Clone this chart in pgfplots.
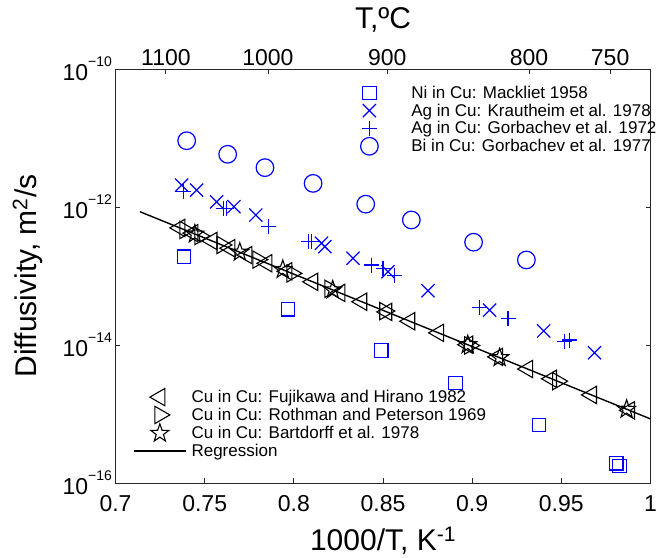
\documentclass[border=0pt]{standalone}
\usepackage{fontspec}
\setmainfont{Liberation Sans}
\usepackage{pgfplots}
\pgfplotsset{compat=1.18}
\usetikzlibrary{plotmarks}

% outlined five-pointed star (pentagram)
\pgfdeclareplotmark{ostar}{%
  \pgfpathmoveto{\pgfpointpolar{90}{\pgfplotmarksize}}%
  \pgfpathlineto{\pgfpointpolar{126}{0.40\pgfplotmarksize}}%
  \pgfpathlineto{\pgfpointpolar{162}{\pgfplotmarksize}}%
  \pgfpathlineto{\pgfpointpolar{198}{0.40\pgfplotmarksize}}%
  \pgfpathlineto{\pgfpointpolar{234}{\pgfplotmarksize}}%
  \pgfpathlineto{\pgfpointpolar{270}{0.40\pgfplotmarksize}}%
  \pgfpathlineto{\pgfpointpolar{306}{\pgfplotmarksize}}%
  \pgfpathlineto{\pgfpointpolar{342}{0.40\pgfplotmarksize}}%
  \pgfpathlineto{\pgfpointpolar{18}{\pgfplotmarksize}}%
  \pgfpathlineto{\pgfpointpolar{54}{0.40\pgfplotmarksize}}%
  \pgfpathclose\pgfusepathqstroke}

\newcommand\ticksize{\fontsize{23}{27}\selectfont}
\newcommand\labsize{\fontsize{30}{34}\selectfont}
\newcommand\legsize{\fontsize{17}{21}\selectfont}
\newcommand\expo[1]{\raisebox{0.62em}{\fontsize{14}{14}\selectfont #1}}

\pgfplotsset{
  diffaxis/.style={
    scale only axis, width=535pt, height=414pt,
    at={(0pt,0pt)}, anchor=south west,
    xmin=0.7, xmax=1.0, ymin=1e-16, ymax=1e-10,
    tick align=inside, major tick length=5pt,
    yminorticks=false, xminorticks=false,
    axis line style={black!85, line width=0.8pt},
    every tick/.style={black!85, line width=0.8pt},
    tick label style={font=\ticksize},
  },
  legimg/.style={
    legend image code/.code={\draw[mark repeat=2,mark phase=2]
      plot coordinates {(0pt,0pt)(26pt,0pt)(52pt,0pt)};},
    legend style={draw=none, fill=none, font=\legsize,
      inner sep=0pt, outer sep=0pt, row sep=0pt, column sep=3pt},
    legend cell align=left,
  },
  % legend symbol for marker-only series: one mark centred in a 52pt slot
  markleg/.style={
    legend image code/.code={%
      \path[draw=none, fill=none] (0pt,0pt) -- (52pt,0pt);
      \draw[/tikz/only marks] plot coordinates {(26pt,0pt)};},
  },
}

\begin{document}
\begin{tikzpicture}
% solute diffusion data, bottom 1000/T axis
\begin{axis}[diffaxis, legimg, ymode=log,
  xtick={0.7,0.75,0.8,0.85,0.9,0.95,1},
  xticklabels={0.7,0.75,0.8,0.85,0.9,0.95,1},
  xtick pos=left,
  every x tick label/.append style={yshift=-9pt},
  ytick={1e-16,1e-14,1e-12,1e-10},
  yticklabels={10\expo{−16},10\expo{−14},10\expo{−12},10\expo{−10}},
  xlabel={1000/T, K\textsuperscript{-1}},
  ylabel={Diffusivity, m\textsuperscript{2}/s},
  every axis y label/.style={at={(axis description cs:-0.164,0.5)}, rotate=90,
    anchor=center, font=\labsize},
  every axis x label/.style={at={(axis description cs:0.5,-0.162)}, anchor=base,
    font=\labsize},
  legend style={at={(axis description cs:0.426,0.964)}, anchor=north west,
    column sep=14pt},
]
\addplot[only marks, markleg, blue, mark=square, mark size=6.7pt, line width=1.2pt] coordinates {
  (0.7384,1.9e-13) (0.7968,3.3e-14) (0.8491,8.3e-15) (0.8906,2.8e-15)
  (0.9374,6.9e-16) (0.9808,1.93e-16) (0.9826,1.76e-16)};
\addlegendentry{Ni in Cu: Mackliet 1958}
\addplot[only marks, markleg, blue, mark=x, mark size=9.3pt, line width=1.2pt] coordinates {
  (0.7371,2.08e-12) (0.7455,1.76e-12) (0.7567,1.19e-12) (0.7664,1.01e-12)
  (0.7787,7.66e-13) (0.8155,2.98e-13) (0.8174,2.66e-13) (0.8332,1.81e-13)
  (0.8528,1.15e-13) (0.8752,6.12e-14) (0.9098,3.21e-14) (0.9401,1.60e-14)
  (0.9686,7.73e-15)};
\addlegendentry{Ag in Cu: Krautheim et al. 1978}
\addplot[only marks, markleg, blue, mark=+, mark size=7.5pt, line width=1.2pt] coordinates {
  (0.7380,1.67e-12) (0.7604,9.57e-13) (0.7623,9.57e-13) (0.7856,5.18e-13)
  (0.8080,3.14e-13) (0.8099,3.14e-13) (0.8435,1.44e-13) (0.8500,1.29e-13)
  (0.8566,1.03e-13) (0.9042,3.52e-14) (0.9201,2.44e-14) (0.9518,1.12e-14)
  (0.9546,1.18e-14)};
\addlegendentry{Ag in Cu: Gorbachev et al. 1972}
\addplot[only marks, markleg, blue, mark=o, mark size=8.8pt, line width=1.2pt] coordinates {
  (0.7399,9.14e-12) (0.7629,5.81e-12) (0.7838,3.72e-12) (0.8108,2.20e-12)
  (0.8403,1.10e-12) (0.8659,6.49e-13) (0.9008,3.09e-13) (0.9304,1.71e-13)};
\addlegendentry{Bi in Cu: Gorbachev et al. 1977}
\end{axis}

% self-diffusion data and regression
\begin{axis}[diffaxis, legimg, ymode=log, hide axis,
  legend style={at={(axis description cs:0.033,0.229)}, anchor=north west},
]
\addplot[only marks, markleg, black, mark=triangle, mark size=10pt, line width=1.1pt,
  mark options={rotate=90}] coordinates {
  (0.7361,4.98e-13) (0.7434,4.18e-13) (0.7541,3.22e-13) (0.7641,2.53e-13)
  (0.7737,2.01e-13) (0.7849,1.53e-13) (0.7961,1.17e-13) (0.8106,8.24e-14)
  (0.8258,5.70e-14) (0.8381,4.24e-14) (0.8521,3.02e-14) (0.8650,2.21e-14)
  (0.8812,1.50e-14) (0.8975,1.01e-14) (0.9143,6.73e-15) (0.9311,4.49e-15)
  (0.9445,3.24e-15) (0.9669,1.89e-15) (0.9882,1.13e-15)};
\addlegendentry{Cu in Cu: Fujikawa and Hirano 1982}
\addplot[only marks, markleg, black, mark=triangle, mark size=10pt, line width=1.1pt,
  mark options={rotate=-90}] coordinates {
  (0.7389,4.65e-13) (0.7473,3.80e-13) (0.7597,2.82e-13) (0.7798,1.73e-13)
  (0.7989,1.09e-13) (0.8202,6.53e-14) (0.8510,3.10e-14) (0.8986,9.84e-15)
  (0.9479,2.99e-15)};
\addlegendentry{Cu in Cu: Rothman and Peterson 1969}
\addplot[only marks, markleg, black, mark=ostar, mark size=9.5pt, line width=1.1pt] coordinates {
  (0.7445,4.06e-13) (0.7697,2.21e-13) (0.7938,1.24e-13) (0.8218,6.28e-14)
  (0.8975,1.01e-14) (0.9154,6.55e-15) (0.9866,1.17e-15)};
\addlegendentry{Cu in Cu: Bartdorff et al. 1978}
\addplot[black, line width=1.4pt, mark=none] coordinates {
  (0.7137,8.55e-13) (1.0,8.49e-16)};
\addlegendentry{Regression}
\end{axis}

% temperature scale on top
\begin{axis}[diffaxis, ymode=log, axis x line*=top, axis y line=none,
  xtick={0.72826,0.78549,0.85241,0.93188,0.97737},
  xticklabels={1100,1000,900,800,750},
  xlabel={T,ºC},
  every axis x label/.style={at={(axis description cs:0.5,1.099)}, anchor=base,
    font=\labsize},
]
\addplot[draw=none] coordinates {(0.8,1e-12)};
\end{axis}

\pgfresetboundingbox
\path[use as bounding box] (-115.5pt,-74pt) rectangle (550.5pt,483pt);
\end{tikzpicture}
\end{document}
